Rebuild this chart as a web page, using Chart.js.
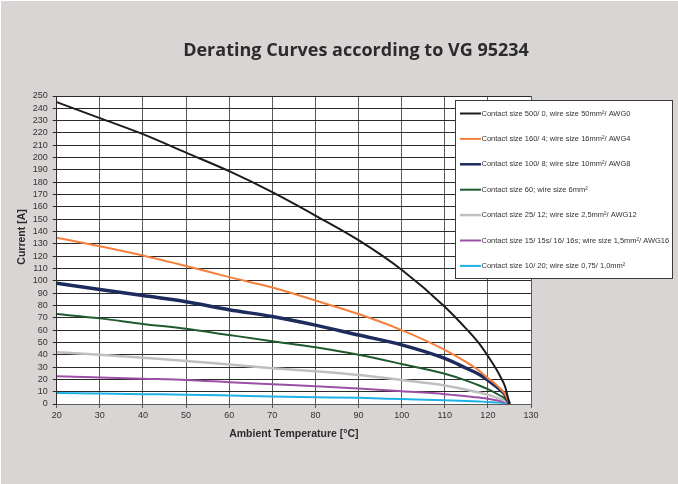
<!DOCTYPE html>
<html>
<head>
<meta charset="utf-8">
<script src="https://cdn.jsdelivr.net/npm/chart.js@4.4.0/dist/chart.umd.min.js"></script>
<style>
  html, body { margin: 0; padding: 0; background: #ffffff; }
  #wrap { position: absolute; left: 1px; top: 1px; width: 677px; height: 483px; background: #dad5d5; }
  canvas { display: block; }
</style>
</head>
<body>
<div id="wrap"><canvas id="c" width="677" height="483"></canvas></div>
<script>
// ---- Data ----
const temperatures = [20, 30, 40, 50, 60, 70, 80, 90, 100, 110, 115, 118, 120, 122, 123, 124, 125];
const size500 = [245, 232, 219, 204, 189, 172, 153, 133, 109, 79, 61, 49, 39, 28, 21.5, 14, 0];
const size160 = [135, 128, 120.5, 112, 103, 94.5, 84, 73, 60, 44, 34, 27, 21, 15.5, 12, 8, 0];
const size100 = [98, 93, 88, 83, 76.5, 71, 64, 56, 48, 37, 29, 24, 19.5, 14, 11, 7.5, 0];
const size60  = [73, 69.5, 65, 61, 56, 51, 46, 40, 32.5, 24.5, 19, 15, 12, 8.5, 6.5, 4.3, 0];
const size25  = [42, 40, 37.5, 35, 32, 29, 26.5, 23.5, 19.5, 15, 11.5, 9.3, 7.5, 5.2, 4, 2.6, 0];
const size15  = [22.5, 21.5, 20.5, 19.5, 17.7, 16, 14.4, 12.5, 10.3, 8, 6.3, 5.2, 4.3, 3, 2.3, 1.5, 0];
const size10  = [9, 8.5, 8, 7.6, 6.9, 6.1, 5.5, 5, 4, 3, 2.4, 2, 1.7, 1.2, 1, 0.6, 0];

const seriesLabels = [
  "Contact size 500/ 0, wire size 50mm²/ AWG0",
  "Contact size 160/ 4; wire size 16mm²/ AWG4",
  "Contact size 100/ 8; wire size 10mm²/ AWG8",
  "Contact size 60; wire size 6mm²",
  "Contact size 25/ 12; wire size 2,5mm²/ AWG12",
  "Contact size 15/ 15s/ 16/ 16s; wire size 1,5mm²/ AWG16",
  "Contact size 10/ 20; wire size 0,75/ 1,0mm²"
];
const seriesValues = [size500, size160, size100, size60, size25, size15, size10];
const xTicks = [20, 30, 40, 50, 60, 70, 80, 90, 100, 110, 120, 130];
const yMax = 250, yStep = 10;

const chartTitle = "Derating Curves according to VG 95234";
const xTitle = "Ambient Temperature [°C]";
const yTitle = "Current [A]";

// ---- Styles ----
const colors = ["#1c1c1c", "#f5803e", "#1d2c5c", "#1f5b2f", "#bfbfbf", "#9c4fa6", "#1eb1e7"];
const widths = [2, 2, 3.5, 2, 2.5, 2, 2];

const datasets = seriesValues.map((vals, i) => ({
  label: seriesLabels[i],
  data: vals.map((v, j) => ({ x: temperatures[j], y: v })),
  borderColor: colors[i],
  backgroundColor: colors[i],
  borderWidth: widths[i],
  pointRadius: 0,
  cubicInterpolationMode: 'monotone',
  fill: false
}));

const bgPlugin = {
  id: 'plotBg',
  beforeDraw(chart) {
    const { ctx, chartArea: a } = chart;
    ctx.save();
    ctx.fillStyle = '#ffffff';
    ctx.fillRect(a.left, a.top, a.right - a.left, a.bottom - a.top);
    ctx.restore();
  }
};

const textPlugin = {
  id: 'texts',
  afterDraw(chart) {
    const { ctx } = chart;
    ctx.save();
    ctx.fillStyle = '#2b2b2b';
    ctx.font = 'bold 18px "Open Sans", sans-serif';
    ctx.textAlign = 'center';
    ctx.textBaseline = 'middle';
    ctx.fillText(chartTitle, 355, 49.5);
    ctx.font = 'bold 10.5px "Liberation Sans", Arial, sans-serif';
    ctx.translate(21.5, 236);
    ctx.rotate(-Math.PI / 2);
    ctx.fillText(yTitle, 0, 0);
    ctx.restore();
  }
};

const legendPlugin = {
  id: 'boxLegend',
  afterDraw(chart) {
    const { ctx } = chart;
    const bx = 454.5, by = 99.5, bw = 217, bh = 178;
    ctx.save();
    ctx.fillStyle = '#ffffff';
    ctx.fillRect(bx, by, bw, bh);
    ctx.strokeStyle = '#3a3a3a';
    ctx.lineWidth = 1;
    ctx.strokeRect(bx, by, bw, bh);
    ctx.font = '7.5px "Liberation Sans", Arial, sans-serif';
    ctx.textBaseline = 'middle';
    ctx.textAlign = 'left';
    chart.data.datasets.forEach((ds, i) => {
      const y = 112.5 + i * 25.4;
      ctx.strokeStyle = ds.borderColor;
      ctx.lineWidth = Math.min(ds.borderWidth, 2.5);
      ctx.beginPath();
      ctx.moveTo(459, y);
      ctx.lineTo(480, y);
      ctx.stroke();
      ctx.fillStyle = '#333333';
      ctx.fillText(ds.label, 480.5, y);
    });
    ctx.restore();
  }
};

new Chart(document.getElementById('c'), {
  type: 'line',
  data: { datasets },
  options: {
    responsive: false,
    animation: false,
    layout: { padding: { top: 95, right: 147, bottom: 0, left: 0 } },
    plugins: {
      legend: { display: false },
      title: { display: false },
      tooltip: { enabled: false }
    },
    scales: {
      x: {
        type: 'linear',
        min: 20, max: 130,
        afterBuildTicks(scale) { scale.ticks = xTicks.map(v => ({ value: v })); },
        afterFit(scale) { scale.height = 80; },
        grid: { color: '#5a5a5a', lineWidth: 1, tickLength: 4, drawTicks: true },
        border: { color: '#5a5a5a', width: 1 },
        ticks: { color: '#333333', font: { family: '"Liberation Sans", Arial, sans-serif', size: 9 }, padding: 2, maxRotation: 0, autoSkip: false },
        title: { display: true, text: xTitle, color: '#2b2b2b', font: { family: '"Liberation Sans", Arial, sans-serif', size: 10.5, weight: 'bold' }, padding: { top: 0, bottom: 44 } }
      },
      y: {
        min: 0, max: yMax,
        afterFit(scale) { scale.width = 55.7; },
        grid: { color: '#2a2a2a', lineWidth: 1, tickLength: 4 },
        border: { color: '#2a2a2a', width: 1 },
        ticks: { stepSize: yStep, autoSkip: false, color: '#333333', font: { family: '"Liberation Sans", Arial, sans-serif', size: 9 }, padding: 5 },
        title: { display: false }
      }
    }
  },
  plugins: [bgPlugin, textPlugin, legendPlugin]
});
</script>
</body>
</html>
